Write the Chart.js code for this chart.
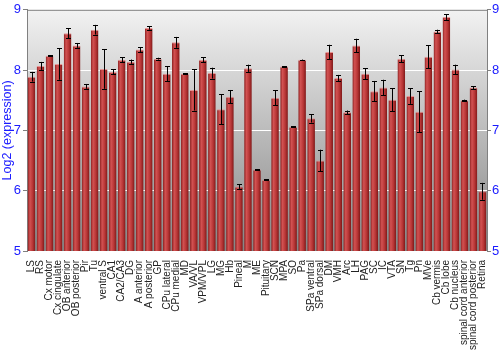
<!DOCTYPE html>
<html>
<head>
<meta charset="utf-8">
<script src="https://cdn.jsdelivr.net/npm/chart.js@4"></script>
<style>
  html, body { margin: 0; padding: 0; background: #fff; }
  #wrap { width: 500px; height: 350px; }
</style>
</head>
<body>
<div id="wrap"><canvas id="exprChart" width="500" height="350"></canvas></div>
<script>
const regions = ['LS', 'RS', 'Cx motor', 'Cx cingulate', 'OB anterior', 'OB posterior', 'Pir', 'Tu',
  'ventral S', 'CA1', 'CA2/CA3', 'DG', 'A anterior', 'A posterior', 'GP', 'CPu lateral', 'CPu medial',
  'MD', 'VA/VL', 'VPM/VPL', 'LG', 'MG', 'Hb', 'Pineal', 'M', 'ME', 'Pituitary', 'SCN', 'MPA', 'SO', 'Pa',
  'SPa ventral', 'SPa dorsal', 'DM', 'VMH', 'Arc', 'LH', 'PAG', 'SC', 'IC', 'VTA', 'SN', 'Tg', 'Pn',
  'MVe', 'Cb vermis', 'Cb lobe', 'Cb nucleus', 'spinal cord anterior', 'spinal cord posterior', 'Retina'];

const expression = [7.89, 8.07, 8.24, 8.10, 8.61, 8.41, 7.73, 8.67, 8.02, 7.97, 8.17, 8.14, 8.34, 8.70,
  8.19, 7.94, 8.46, 7.94, 7.67, 8.17, 7.95, 7.35, 7.56, 6.07, 8.03, 6.35, 6.18, 7.54, 8.06, 7.06, 8.17,
  7.20, 6.50, 8.30, 7.87, 7.30, 8.41, 7.94, 7.65, 7.71, 7.51, 8.19, 7.57, 7.31, 8.22, 8.64, 8.88, 8.01,
  7.50, 7.71, 5.99];

const errors = [0.08, 0.066, 0.01, 0.26, 0.08, 0.04, 0.04, 0.08, 0.33, 0.04, 0.04, 0.035, 0.04, 0.03,
  0.015, 0.12, 0.09, 0.005, 0.34, 0.04, 0.09, 0.25, 0.11, 0.04, 0.06, 0.01, 0.01, 0.127, 0.005, 0.01,
  0.005, 0.07, 0.18, 0.12, 0.05, 0.03, 0.11, 0.09, 0.17, 0.13, 0.19, 0.06, 0.13, 0.34, 0.19, 0.03, 0.05,
  0.08, 0.01, 0.025, 0.14];

const yTicks = [5, 6, 7, 8, 9];

const blue = '#1a1aff';
const axisGray = '#808080';

// gray gradient behind the plot, plus the top frame line
const plotBackground = {
  id: 'plotBackground',
  beforeDraw(chart) {
    const { ctx, chartArea: a } = chart;
    const g = ctx.createLinearGradient(0, a.top, 0, a.bottom);
    g.addColorStop(0, '#f2f2f2');
    g.addColorStop(1, '#858585');
    ctx.save();
    ctx.fillStyle = g;
    ctx.fillRect(a.left, a.top, a.right - a.left, a.bottom - a.top);
    ctx.restore();
  },
  afterDraw(chart) {
    const { ctx, chartArea: a } = chart;
    ctx.save();
    ctx.strokeStyle = axisGray;
    ctx.lineWidth = 1;
    ctx.beginPath();
    ctx.moveTo(a.left, a.top + 0.5);
    ctx.lineTo(a.right, a.top + 0.5);
    ctx.stroke();
    ctx.restore();
  }
};

const errorBars = {
  id: 'errorBars',
  afterDatasetsDraw(chart) {
    const { ctx, scales } = chart;
    const meta = chart.getDatasetMeta(0);
    ctx.save();
    ctx.strokeStyle = '#000';
    ctx.lineWidth = 1;
    meta.data.forEach((bar, i) => {
      const x = Math.round(bar.x) + 0.5;
      const hi = scales.y.getPixelForValue(expression[i] + errors[i]);
      const lo = scales.y.getPixelForValue(expression[i] - errors[i]);
      ctx.beginPath();
      ctx.moveTo(x, hi);
      ctx.lineTo(x, lo);
      ctx.moveTo(x - 2.5, Math.round(hi) + 0.5);
      ctx.lineTo(x + 2.5, Math.round(hi) + 0.5);
      ctx.moveTo(x - 2.5, Math.round(lo) + 0.5);
      ctx.lineTo(x + 2.5, Math.round(lo) + 0.5);
      ctx.stroke();
    });
    ctx.restore();
  }
};

function barFill(context) {
  const el = context.element;
  const chart = context.chart;
  if (!el || !chart.chartArea || !Number.isFinite(el.x) || !Number.isFinite(el.width)) return '#b83a3a';
  const w = el.width;
  const g = chart.ctx.createLinearGradient(el.x - w / 2, 0, el.x + w / 2, 0);
  g.addColorStop(0, '#8c2020');
  g.addColorStop(0.3, '#d25252');
  g.addColorStop(0.65, '#b83636');
  g.addColorStop(1, '#7e1818');
  return g;
}

const chart = new Chart(document.getElementById('exprChart'), {
  type: 'bar',
  data: {
    labels: regions,
    datasets: [{
      label: 'Log2 (expression)',
      data: expression,
      backgroundColor: barFill,
      borderColor: 'rgba(230,140,140,0.9)',
      borderWidth: { top: 1, left: 0, right: 0, bottom: 0 },
      borderSkipped: 'bottom',
      barPercentage: 0.85,
      categoryPercentage: 1.0
    }]
  },
  options: {
    responsive: false,
    animation: false,
    devicePixelRatio: 1,
    layout: { padding: { top: 3, right: 0, left: 0, bottom: 0 } },
    plugins: {
      legend: { display: false },
      tooltip: { enabled: false }
    },
    scales: {
      x: {
        grid: { display: false },
        border: { display: false },
        ticks: {
          autoSkip: false,
          minRotation: 90,
          maxRotation: 90,
          padding: 1,
          color: '#222',
          font: { family: 'Liberation Sans', size: 10 }
        },
        afterFit(scale) { scale.height = 99; }
      },
      y: {
        position: 'left',
        min: 5,
        max: 9,
        afterBuildTicks(scale) { scale.ticks = yTicks.map(v => ({ value: v })); },
        grid: { color: '#ffffff', lineWidth: 1, tickLength: 4, tickColor: axisGray },
        border: { color: axisGray },
        ticks: { color: blue, padding: 2, font: { family: 'Liberation Sans', size: 13 } },
        title: {
          display: true,
          text: 'Log2 (expression)',
          color: blue,
          padding: 0,
          font: { family: 'Liberation Sans', size: 12.5 }
        },
        afterFit(scale) { scale.width = 27; }
      },
      y1: {
        position: 'right',
        min: 5,
        max: 9,
        afterBuildTicks(scale) { scale.ticks = yTicks.map(v => ({ value: v })); },
        grid: { drawOnChartArea: false, tickLength: 4, color: axisGray },
        border: { color: axisGray },
        ticks: { color: blue, padding: 1, font: { family: 'Liberation Sans', size: 13 } },
        afterFit(scale) { scale.width = 13; }
      }
    }
  },
  plugins: [plotBackground, errorBars]
});
// redraw once so the per-bar gradients see final element positions
chart.update('none');
</script>
</body>
</html>
